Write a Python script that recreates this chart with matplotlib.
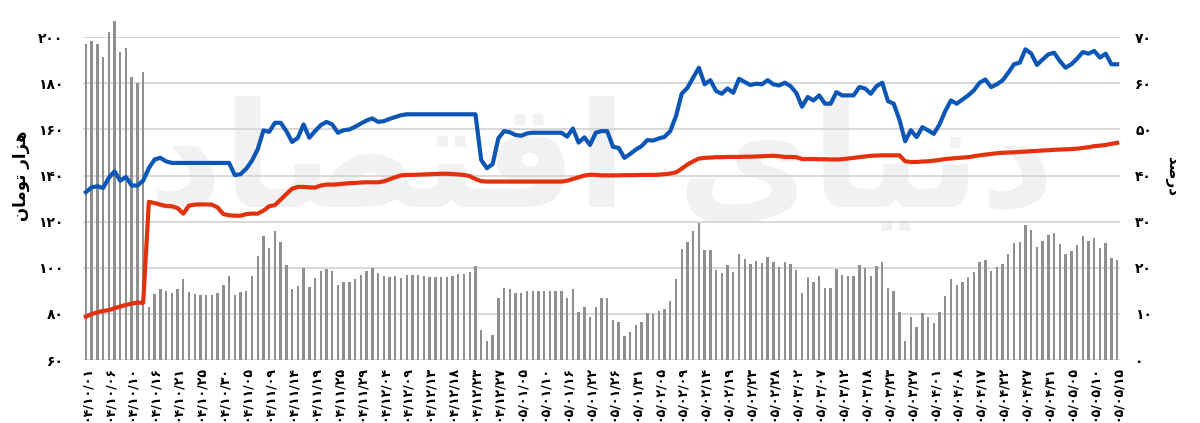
import numpy as np
import matplotlib
matplotlib.use("Agg")
import matplotlib.pyplot as plt

# bubble percent (bars, right axis)
bubble = [68.5, 69.1, 68.6, 65.8, 71.2, 73.6, 66.9, 67.6, 61.4, 60.0,
          62.5, 11.6, 14.3, 15.4, 15.0, 14.6, 15.4, 17.6, 14.7, 14.4,
          14.1, 14.1, 14.1, 14.5, 16.2, 18.2, 14.1, 14.7, 15.0, 18.2,
          22.6, 26.9, 24.4, 28.0, 25.7, 20.7, 15.4, 16.0, 20.0, 15.8,
          17.8, 19.3, 19.8, 19.3, 16.2, 16.9, 16.9, 17.5, 18.4, 19.3,
          19.9, 18.8, 18.3, 18.1, 18.2, 17.7, 18.4, 18.4, 18.4, 18.2,
          18.1, 18.1, 18.1, 18.1, 18.2, 18.6, 18.6, 19.0, 20.4, 6.5,
          4.2, 5.4, 13.5, 15.7, 15.3, 14.5, 14.5, 15.0, 15.0, 15.0,
          15.0, 15.0, 15.0, 15.0, 13.5, 15.3, 10.5, 11.4, 9.4, 11.6,
          13.4, 13.4, 8.7, 8.2, 5.1, 6.0, 7.5, 8.3, 10.1, 10.0,
          10.7, 11.0, 12.7, 17.5, 24.1, 25.6, 28.0, 29.7, 23.8, 23.9,
          19.6, 18.8, 20.5, 19.1, 23.0, 22.0, 20.9, 21.4, 21.1, 22.3,
          21.2, 20.1, 21.2, 20.8, 19.6, 14.6, 17.9, 16.9, 18.3, 15.6,
          15.6, 19.7, 18.5, 18.3, 18.3, 20.7, 19.9, 18.3, 20.4, 21.2,
          15.7, 15.0, 10.5, 4.1, 9.3, 7.2, 10.3, 9.3, 8.0, 10.4,
          13.9, 17.6, 16.2, 17.0, 17.9, 19.1, 21.2, 21.7, 19.3, 20.1,
          20.9, 23.0, 25.4, 25.6, 29.3, 28.1, 24.5, 25.9, 27.2, 27.5,
          25.1, 23.0, 23.7, 25.0, 26.8, 25.9, 26.4, 24.4, 25.4, 22.1, 21.7]

# market price (blue, thousand toman)
price = [132.8, 134.9, 135.4, 134.6, 139.0, 141.9, 137.8, 139.4, 135.7, 135.7,
         137.8, 143.3, 147.0, 147.7, 146.2, 145.5, 145.5, 145.5, 145.5, 145.5,
         145.5, 145.5, 145.5, 145.5, 145.5, 145.5, 140.2, 140.6, 143.0, 146.5,
         151.5, 159.6, 159.0, 162.9, 162.9, 159.3, 154.6, 156.4, 162.2, 156.4,
         159.3, 161.9, 163.3, 162.2, 158.6, 159.7, 160.0, 161.2, 162.6, 163.9,
         164.8, 163.3, 163.6, 164.6, 165.4, 166.2, 166.6, 166.6, 166.6, 166.6,
         166.6, 166.6, 166.6, 166.6, 166.6, 166.6, 166.6, 166.6, 166.6, 146.8,
         143.2, 145.0, 156.2, 159.3, 158.8, 157.6, 157.3, 158.3, 158.6, 158.6,
         158.6, 158.6, 158.6, 158.6, 156.9, 160.4, 154.3, 156.6, 153.3, 158.6,
         159.3, 159.3, 152.5, 152.0, 147.7, 149.4, 151.3, 152.8, 155.4, 155.2,
         156.1, 156.8, 159.3, 165.8, 175.5, 178.1, 182.5, 186.8, 179.6, 181.4,
         176.7, 175.5, 177.8, 175.9, 182.0, 180.6, 179.3, 179.9, 179.6, 181.4,
         179.6, 179.1, 180.3, 178.8, 175.9, 169.9, 174.1, 172.6, 174.8, 171.2,
         171.2, 176.2, 174.8, 174.8, 174.8, 178.4, 177.8, 175.5, 178.8, 180.3,
         172.3, 171.2, 164.3, 154.9, 159.7, 156.7, 161.0, 159.6, 158.1, 162.2,
         168.0, 172.6, 171.2, 173.0, 174.8, 177.0, 180.3, 181.7, 178.4, 179.6,
         181.3, 184.6, 188.3, 189.0, 194.8, 193.0, 188.0, 190.4, 192.6, 193.3,
         189.7, 186.8, 188.3, 190.7, 193.6, 192.9, 194.1, 191.2, 192.9, 188.3, 188.3]

# net asset value (red, thousand toman)
nav = [78.8, 79.9, 80.7, 81.3, 81.6, 82.5, 83.2, 83.9, 84.5, 84.9,
       84.8, 128.6, 128.1, 127.4, 126.8, 126.7, 125.9, 123.5, 127.0, 127.4,
       127.5, 127.5, 127.4, 126.2, 123.3, 122.8, 122.6, 122.6, 123.3, 123.5,
       123.5, 124.8, 126.7, 127.2, 129.6, 132.0, 134.3, 135.1, 135.1, 134.9,
       134.8, 135.7, 136.1, 136.1, 136.2, 136.5, 136.7, 136.8, 137.0, 137.1,
       137.1, 137.1, 137.5, 138.4, 139.3, 140.1, 140.3, 140.3, 140.4, 140.5,
       140.6, 140.7, 140.8, 140.8, 140.7, 140.5, 140.3, 139.8, 138.5, 137.6,
       137.4, 137.4, 137.4, 137.4, 137.4, 137.4, 137.4, 137.4, 137.4, 137.4,
       137.4, 137.4, 137.4, 137.4, 137.8, 138.5, 139.3, 140.0, 140.4, 140.3,
       140.1, 140.1, 140.1, 140.1, 140.2, 140.2, 140.2, 140.3, 140.3, 140.3,
       140.4, 140.6, 140.9, 141.4, 143.0, 144.8, 146.2, 147.4, 147.7, 147.8,
       148.0, 148.0, 148.1, 148.1, 148.1, 148.2, 148.2, 148.3, 148.4, 148.5,
       148.6, 148.4, 148.1, 148.1, 148.0, 147.2, 147.2, 147.2, 147.1, 147.1,
       147.0, 147.0, 147.1, 147.4, 147.7, 148.0, 148.3, 148.6, 148.7, 148.8,
       148.8, 148.8, 148.8, 146.2, 145.9, 145.9, 146.1, 146.2, 146.5, 146.8,
       147.2, 147.4, 147.6, 147.8, 148.0, 148.4, 148.8, 149.1, 149.4, 149.7,
       149.9, 150.0, 150.1, 150.3, 150.4, 150.6, 150.7, 150.9, 151.0, 151.2,
       151.3, 151.4, 151.5, 151.7, 152.0, 152.3, 152.8, 153.0, 153.3, 153.8, 154.2]

# every 4th trading day is labelled
date_labels = ['۰۴/۱۰/۰۱', '۰۴/۱۰/۰۶', '۰۴/۱۰/۱۰', '۰۴/۱۰/۱۶', '۰۴/۱۰/۲۱', '۰۴/۱۰/۲۵',
               '۰۴/۱۰/۳۰', '۰۴/۱۱/۰۵', '۰۴/۱۱/۰۹', '۰۴/۱۱/۱۴', '۰۴/۱۱/۱۹', '۰۴/۱۱/۲۵',
               '۰۴/۱۱/۲۹', '۰۴/۱۲/۰۴', '۰۴/۱۲/۰۹', '۰۴/۱۲/۱۳', '۰۴/۱۲/۱۸', '۰۴/۱۲/۲۳',
               '۰۴/۱۲/۲۷', '۰۵/۰۱/۰۵', '۰۵/۰۱/۱۰', '۰۵/۰۱/۱۶', '۰۵/۰۱/۲۲', '۰۵/۰۱/۲۶',
               '۰۵/۰۱/۳۱', '۰۵/۰۲/۰۵', '۰۵/۰۲/۰۹', '۰۵/۰۲/۱۴', '۰۵/۰۲/۱۹', '۰۵/۰۲/۲۳',
               '۰۵/۰۲/۲۸', '۰۵/۰۳/۰۲', '۰۵/۰۳/۰۷', '۰۵/۰۳/۱۲', '۰۵/۰۳/۱۸', '۰۵/۰۳/۲۳',
               '۰۵/۰۳/۲۷', '۰۵/۰۴/۰۱', '۰۵/۰۴/۰۸', '۰۵/۰۴/۱۷', '۰۵/۰۴/۲۲', '۰۵/۰۴/۲۷',
               '۰۵/۰۴/۳۱', '۰۵/۰۵/۰۵', '۰۵/۰۵/۱۰', '۰۵/۰۵/۱۵']

left_ticks = [60, 80, 100, 120, 140, 160, 180, 200]
right_ticks = [0, 10, 20, 30, 40, 50, 60, 70]

# presentation forms, already in visual order (no shaping in matplotlib)
left_title = 'ﻥﺎﻣﻮﺗ ﺭﺍﺰﻫ'    # هزار تومان
right_title = 'ﺪﺻﺭﺩ'         # درصد
watermark = 'ﺩﺎﺼﺘﻗﺍ ﯼﺎﯿﻧﺩ'   # دنیای اقتصاد

fa = str.maketrans('0123456789', '۰۱۲۳۴۵۶۷۸۹')


def fa_num(v):
    return str(v).translate(fa)


plt.rcParams['font.family'] = ['DejaVu Sans']

fig = plt.figure(figsize=(12, 4.23), dpi=100)
ax = fig.add_axes([83 / 1200, 1 - 360 / 423, 1037 / 1200, 322.7 / 423])
ax2 = ax.twinx()
ax.set_zorder(ax2.get_zorder() + 1)
ax.patch.set_visible(False)

x = np.arange(len(bubble))

ax2.text(0.5, 0.6, watermark, transform=ax2.transAxes, fontsize=105,
         fontweight='bold', color='#f1f1f1', ha='center', va='center', zorder=0.1)
ax2.bar(x, bubble, width=0.42, color='#8f8f8f', clip_on=False, zorder=2)
ax2.set_ylim(0, 70)
ax2.set_yticks(right_ticks)
ax2.set_yticklabels([fa_num(t) for t in right_ticks], fontsize=10, fontweight='bold')
ax2.yaxis.grid(True, color='#d2d2d2', lw=1.2)
ax2.set_axisbelow(True)

ax.plot(x, nav, color='#e3310d', lw=3, solid_joinstyle='round', zorder=3)
ax.plot(x, price, color='#0c57b6', lw=3, solid_joinstyle='round', zorder=4)
ax.set_ylim(60, 200)
ax.set_yticks(left_ticks)
ax.set_yticklabels([fa_num(t) for t in left_ticks], fontsize=10, fontweight='bold')
ax.set_xlim(-0.5, len(bubble) - 0.5)
ax.set_xticks(x[::4])
ax.set_xticklabels(date_labels, rotation=90, fontsize=9, fontweight='bold')

for a in (ax, ax2):
    for s in a.spines.values():
        s.set_visible(False)
    a.tick_params(length=0)
ax.tick_params(axis='y', pad=14)
ax2.tick_params(axis='y', pad=11)
ax.tick_params(axis='x', pad=4)

ax.set_ylabel(left_title, fontsize=12, fontweight='bold')
ax.yaxis.set_label_coords(-0.051, 0.57)
ax2.set_ylabel(right_title, fontsize=11, fontweight='bold', rotation=-90, va='center')
ax2.yaxis.set_label_coords(1.05, 0.57)

fig.savefig('out.png', dpi=100)
